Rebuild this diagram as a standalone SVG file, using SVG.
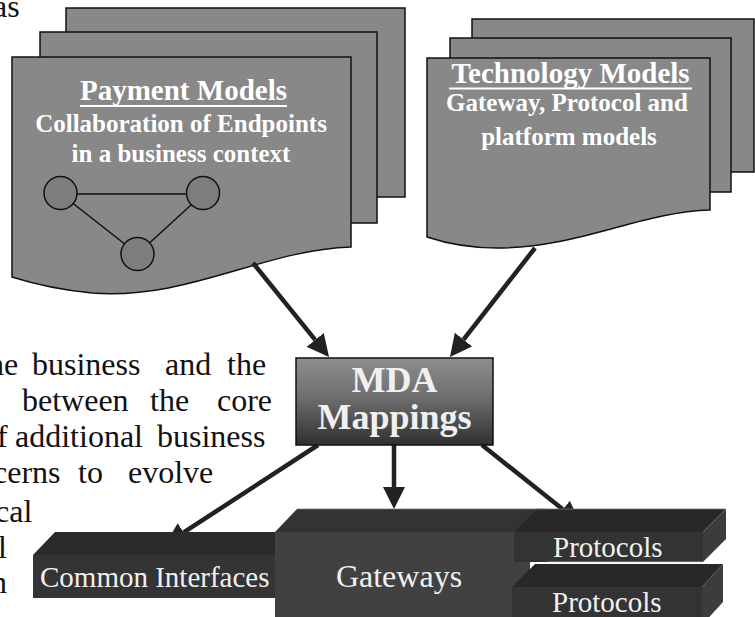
<svg xmlns="http://www.w3.org/2000/svg" width="755" height="617" viewBox="0 0 755 617">
<style>
.sheet{fill:#888888;stroke:#111;stroke-width:1.5}
.bg{font-family:"Liberation Serif","Times New Roman",serif;font-size:32px;fill:#111}
.title{font-family:"Liberation Serif","Times New Roman",serif;font-size:29px;font-weight:bold;fill:#fff}
.sub{font-family:"Liberation Serif","Times New Roman",serif;font-size:25px;font-weight:bold;fill:#fff}
.lbl{font-family:"Liberation Serif","Times New Roman",serif;font-size:29px;fill:#f0f0f0}
.conn{stroke:#222;stroke-width:4.5;fill:none;marker-end:url(#ah)}
.circ{fill:#7d7d7d;stroke:#111;stroke-width:1.5}
</style>
<defs>
<marker id="ah" viewBox="0 0 22 22" markerWidth="22" markerHeight="22" refX="0" refY="11" orient="auto" markerUnits="userSpaceOnUse">
<path d="M0,0 L22,11 L0,22 z" fill="#222"/>
</marker>
<linearGradient id="mdaGrad" x1="0" y1="0" x2="0" y2="1">
<stop offset="0" stop-color="#8e8e8e"/>
<stop offset="0.45" stop-color="#6e6e6e"/>
<stop offset="1" stop-color="#303030"/>
</linearGradient>
</defs>
<rect width="755" height="617" fill="#fff"/>
<g id="background-text" class="bg">
<text x="-7" y="17">as</text>
<text y="375"><tspan x="-12">he</tspan><tspan x="32">business</tspan><tspan x="165">and</tspan><tspan x="227">the</tspan></text>
<text y="411"><tspan x="22">between</tspan><tspan x="150">the</tspan><tspan x="217">core</tspan></text>
<text y="447"><tspan x="-3">f</tspan><tspan x="15">additional</tspan><tspan x="157">business</tspan></text>
<text y="483"><tspan x="-7">cerns</tspan><tspan x="78">to</tspan><tspan x="128">evolve</tspan></text>
<text x="-5" y="522">cal</text>
<text x="-2" y="558">l</text>
<text x="-9" y="593">n</text>
</g>
<g id="payment-models">
<rect class="sheet" x="66" y="8" width="339" height="189"/>
<rect class="sheet" x="40" y="32" width="337" height="191"/>
<path class="sheet" d="M12,57 H351 V247 C262,250 190,300 92,293 Q50,289 12,277 Z"/>
<text class="title" x="183.5" y="100" text-anchor="middle">Payment Models</text>
<line x1="80" y1="106" x2="287" y2="106" stroke="#fff" stroke-width="2"/>
<text class="sub" x="181" y="132" text-anchor="middle">Collaboration of Endpoints</text>
<text class="sub" x="181" y="162" text-anchor="middle">in a business context</text>
<g stroke="#111" stroke-width="1.5">
<line x1="61" y1="194" x2="203" y2="194"/>
<line x1="61" y1="194" x2="137.5" y2="254"/>
<line x1="203" y1="194" x2="137.5" y2="254"/>
</g>
<circle class="circ" cx="60.5" cy="193" r="16.5"/>
<circle class="circ" cx="203" cy="193" r="16.5"/>
<circle class="circ" cx="137.5" cy="254" r="16.5"/>
</g>
<g id="technology-models">
<rect class="sheet" x="472" y="19" width="282" height="153"/>
<rect class="sheet" x="450" y="38" width="281" height="154"/>
<path class="sheet" d="M427,58 H710 V210 C640,212 580,248 497,248 Q460,248 427,237 Z"/>
<text class="title" x="570.5" y="83" text-anchor="middle">Technology Models</text>
<line x1="449" y1="88.5" x2="692" y2="88.5" stroke="#fff" stroke-width="2"/>
<text class="sub" x="567" y="111" text-anchor="middle">Gateway, Protocol and</text>
<text class="sub" x="569" y="145" text-anchor="middle">platform models</text>
</g>
<g id="connectors">
<line class="conn" x1="253" y1="263" x2="315.2" y2="339.9"/>
<line class="conn" x1="535" y1="248" x2="463.5" y2="339.6"/>
<line class="conn" x1="318" y1="445" x2="183.7" y2="532.4"/>
<line class="conn" x1="394" y1="445" x2="394" y2="487"/>
<line class="conn" x1="482" y1="445" x2="563" y2="509.4"/>
</g>
<g id="mda-mappings">
<rect x="296" y="358" width="197" height="87" fill="url(#mdaGrad)" stroke="#111" stroke-width="1.5"/>
<text x="394.5" y="392" text-anchor="middle" font-family="'Liberation Serif','Times New Roman',serif" font-size="36" font-weight="bold" fill="#f0f0f0">MDA</text>
<text x="394.5" y="429" text-anchor="middle" font-family="'Liberation Serif','Times New Roman',serif" font-size="36" font-weight="bold" fill="#f0f0f0">Mappings</text>
</g>
<g id="common-interfaces">
<polygon points="33,555 55,532 297,532 275,555" fill="#2a2a2a"/>
<rect x="33" y="555" width="242" height="43" fill="#343434"/>
<text class="lbl" x="40" y="587">Common Interfaces</text>
</g>
<g id="gateways">
<polygon points="275,532 297,509 545,509 530,532" fill="#333333"/>
<rect x="275" y="532" width="255" height="90" fill="#414141"/>
<line x1="297" y1="509" x2="545" y2="509" stroke="#777" stroke-width="0.8"/>
<text x="399" y="587" text-anchor="middle" font-family="'Liberation Serif','Times New Roman',serif" font-size="32" fill="#f0f0f0">Gateways</text>
</g>
<g id="protocols-1">
<polygon points="514,532 537,509 726,509 703,532" fill="#282828"/>
<polygon points="703,532 726,509 726,539 703,562" fill="#3c3c3c"/>
<rect x="514" y="532" width="189" height="30" fill="#333333"/>
<line x1="537" y1="509" x2="726" y2="509" stroke="#777" stroke-width="0.8"/>
<text class="lbl" x="553" y="557">Protocols</text>
<line x1="548" y1="562.5" x2="703" y2="562.5" stroke="#f4f4f4" stroke-width="1.5"/>
</g>
<g id="protocols-2">
<polygon points="512,587 535,564 723,564 702,587" fill="#282828"/>
<polygon points="702,587 723,564 723,602 702,625" fill="#3c3c3c"/>
<rect x="512" y="587" width="190" height="40" fill="#333333"/>
<text class="lbl" x="552" y="612">Protocols</text>
</g>
</svg>
